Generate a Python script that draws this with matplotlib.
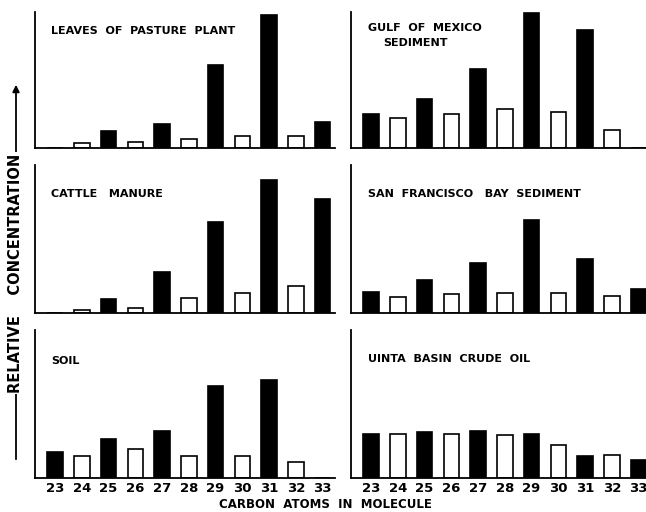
import matplotlib
matplotlib.use("Agg")
import matplotlib.pyplot as plt
from matplotlib.patches import FancyArrowPatch

carbons = [23, 24, 25, 26, 27, 28, 29, 30, 31, 32, 33]
tick_labels = ["23", "24", "25", "26", "27", "28", "29", "30", "31", "32", "33"]

leaves = [0, 5, 17, 6, 24, 9, 83, 12, 133, 12, 26]
gulf = [34, 30, 49, 34, 79, 39, 135, 36, 118, 18, 0]
cattle = [0, 3, 14, 5, 41, 15, 91, 20, 133, 27, 114]
sanfran = [21, 16, 33, 19, 50, 20, 93, 20, 54, 17, 24]
soil = [26, 22, 39, 29, 47, 22, 92, 22, 98, 16, 0]
uinta = [44, 44, 46, 44, 47, 43, 44, 33, 22, 23, 18]

titles = ["LEAVES  OF  PASTURE  PLANT", "GULF  OF  MEXICO",
          "CATTLE   MANURE", "SAN  FRANCISCO   BAY  SEDIMENT",
          "SOIL", "UINTA  BASIN  CRUDE  OIL"]
subtitle_gulf = "SEDIMENT"
series = [leaves, gulf, cattle, sanfran, soil, uinta]

W, H = 646, 512
fig = plt.figure(figsize=(W / 100, H / 100), dpi=100)
fig.patch.set_facecolor("white")

FONT = "DejaVu Sans"

# panel geometry in pixels: (top, bottom)
rows = [(12, 148), (165, 313), (330, 478)]
cols = [35, 351]
panel_w = 300
title_y = {0: 31, 1: 28, 2: 194, 3: 194, 4: 361, 5: 359}
title_x = {0: 51, 1: 368, 2: 51, 3: 368, 4: 51, 5: 368}

for i, vals in enumerate(series):
    r, c = divmod(i, 2)
    top, bot = rows[r]
    left = cols[c]
    ax = fig.add_axes([left / W, 1 - bot / H, panel_w / W, (bot - top) / H])
    colors = ["black" if n % 2 == 1 else "white" for n in carbons]
    ax.bar(carbons, vals, width=0.58, color=colors, edgecolor="black",
           linewidth=1.2)
    ax.set_xlim(22.25, 22.25 + panel_w / 26.75)
    ax.set_ylim(0, bot - top)
    for s in ["top", "right"]:
        ax.spines[s].set_visible(False)
    ax.spines["left"].set_linewidth(1.3)
    ax.spines["bottom"].set_linewidth(1.3)
    ax.set_yticks([])
    ax.set_xticks(carbons)
    ax.tick_params(axis="x", length=0, pad=3)
    if r == 2:
        ax.set_xticklabels(tick_labels, fontsize=9.5, fontweight="bold",
                           family=FONT)
    else:
        ax.set_xticklabels([])
    fig.text(title_x[i] / W, 1 - title_y[i] / H, titles[i], ha="left",
             va="center", fontsize=8, fontweight="bold", family=FONT)
    if i == 1:
        fig.text(383 / W, 1 - 43 / H, subtitle_gulf, ha="left",
                 va="center", fontsize=8, fontweight="bold", family=FONT)

# y label with arrow
xl = 16 / W
arrow = FancyArrowPatch((xl, 1 - 462 / H), (xl, 1 - 82 / H),
                        transform=fig.transFigure, arrowstyle="-|>",
                        mutation_scale=10, linewidth=1.3, color="black")
fig.add_artist(arrow)
fig.text(xl, 1 - 273 / H, "RELATIVE    CONCENTRATION", rotation=90,
         ha="center", va="center", fontsize=10.5, fontweight="bold",
         family=FONT, zorder=5,
         bbox=dict(facecolor="white", edgecolor="none", pad=1))

fig.text(325 / W, 1 - 505 / H, "CARBON  ATOMS  IN  MOLECULE",
         ha="center", va="center", fontsize=8.5, fontweight="bold",
         family=FONT)

fig.savefig("out.png", dpi=100, facecolor="white")
